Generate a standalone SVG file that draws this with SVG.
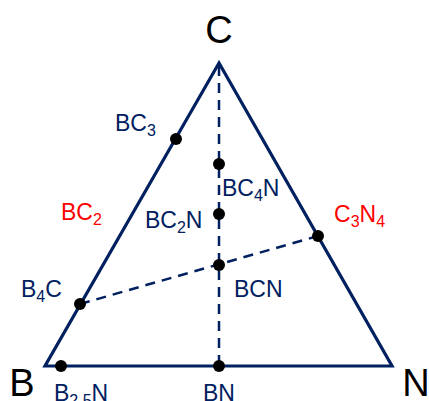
<svg xmlns="http://www.w3.org/2000/svg" width="429" height="401" viewBox="0 0 429 401">
<style>
.edge{fill:none;stroke:#002060;stroke-width:3.2;stroke-linejoin:miter}
.dash{fill:none;stroke:#002060;stroke-width:2.5;stroke-dasharray:10,7}
.dot{fill:#000}
.lbl{font-family:"Liberation Sans",Arial,sans-serif;font-size:23px;fill:#002060}
.sub{font-size:16px}
.red{fill:#ff0000}
.corner{font-family:"Liberation Sans",Arial,sans-serif;font-size:38px;fill:#000}
</style>
<rect width="429" height="401" fill="#fff"/>
<g id="connectors">
<polygon class="edge" points="219,63 45,366 392,366"/>
<line class="dash" x1="219" y1="66" x2="219" y2="366"/>
<line class="dash" x1="80" y1="304" x2="318" y2="236"/>
</g>
<g id="C"><text class="corner" x="219" y="43" text-anchor="middle">C</text></g>
<g id="B"><text class="corner" x="22" y="396" text-anchor="middle">B</text></g>
<g id="N"><text class="corner" x="416" y="396" text-anchor="middle">N</text></g>
<g id="BC3"><circle class="dot" cx="176" cy="139" r="6"/><text class="lbl" x="115" y="131">BC<tspan class="sub" dy="5">3</tspan></text></g>
<g id="BC4N"><circle class="dot" cx="219" cy="164" r="6"/><text class="lbl" x="222" y="196">BC<tspan class="sub" dy="5">4</tspan><tspan dy="-5">N</tspan></text></g>
<g id="BC2N"><circle class="dot" cx="219" cy="214" r="6"/><text class="lbl" x="145" y="228">BC<tspan class="sub" dy="5">2</tspan><tspan dy="-5">N</tspan></text></g>
<g id="BC2"><text class="lbl red" x="61" y="220">BC<tspan class="sub" dy="5">2</tspan></text></g>
<g id="BCN"><circle class="dot" cx="219" cy="265" r="6"/><text class="lbl" x="234" y="297">BCN</text></g>
<g id="C3N4"><circle class="dot" cx="318" cy="236" r="6"/><text class="lbl red" x="334" y="222">C<tspan class="sub" dy="5">3</tspan><tspan dy="-5">N</tspan><tspan class="sub" dy="5">4</tspan></text></g>
<g id="B4C"><circle class="dot" cx="80" cy="304" r="6"/><text class="lbl" x="21" y="297">B<tspan class="sub" dy="5">4</tspan><tspan dy="-5">C</tspan></text></g>
<g id="B25N"><circle class="dot" cx="61" cy="366" r="6"/><text class="lbl" x="54" y="401">B<tspan class="sub" dy="5">2.5</tspan><tspan dy="-5">N</tspan></text></g>
<g id="BN"><circle class="dot" cx="219" cy="366" r="6"/><text class="lbl" x="219" y="401" text-anchor="middle">BN</text></g>
</svg>
